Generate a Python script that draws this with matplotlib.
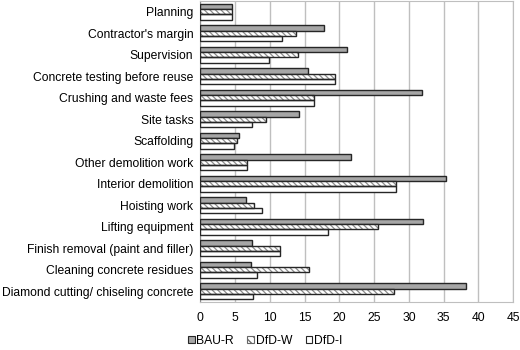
import numpy as np
import matplotlib.pyplot as plt
from matplotlib.patches import Patch

plt.rcParams['font.family'] = ['Liberation Sans', 'DejaVu Sans']
plt.rcParams['hatch.linewidth'] = 0.9

categories = ['Planning', "Contractor's margin", 'Supervision',
              'Concrete testing before reuse', 'Crushing and waste fees',
              'Site tasks', 'Scaffolding', 'Other demolition work',
              'Interior demolition', 'Hoisting work', 'Lifting equipment',
              'Finish removal (paint and filler)', 'Cleaning concrete residues',
              'Diamond cutting/ chiseling concrete']
bau_r = [4.5, 17.8, 21.1, 15.5, 31.9, 14.2, 5.55, 21.7, 35.3, 6.6, 32.0, 7.5, 7.3, 38.2]
dfd_w = [4.5, 13.7, 14.1, 19.4, 16.4, 9.5, 5.35, 6.75, 28.1, 7.75, 25.55, 11.45, 15.65, 27.85]
dfd_i = [4.5, 11.8, 9.9, 19.4, 16.4, 7.5, 4.8, 6.75, 28.1, 8.85, 18.4, 11.45, 8.1, 7.65]

y = np.arange(len(categories))
h = 0.25
edge = '#262626'

fig = plt.figure(figsize=(5.2, 3.5), dpi=100)
ax = fig.add_axes([0.385, 0.137, 0.602, 0.86])

ax.barh(y - h, bau_r, height=h, color='#a6a6a6', edgecolor=edge, linewidth=1, zorder=3)
# hatched bars: gray hatch underneath, dark outline on top
ax.barh(y, dfd_w, height=h, color='white', edgecolor='#8c8c8c', hatch='\\\\\\\\\\\\', linewidth=0, zorder=3)
ax.barh(y, dfd_w, height=h, fill=False, edgecolor=edge, linewidth=1, zorder=4)
ax.barh(y + h, dfd_i, height=h, color='white', edgecolor=edge, linewidth=1, zorder=3)

ax.set_xlim(0, 45)
ax.set_xticks(np.arange(0, 46, 5))
ax.set_ylim(len(categories) - 0.5, -0.5)
ax.set_yticks(y)
ax.set_yticklabels(categories)
ax.tick_params(axis='both', length=0, labelsize=8.7, colors='black')
ax.tick_params(axis='y', pad=5)
ax.tick_params(axis='x', pad=7)
ax.grid(axis='x', color='#bfbfbf', linewidth=1, zorder=0)
for s in ax.spines.values():
    s.set_color('#bfbfbf')
ax.spines['left'].set_color('#8c8c8c')

handles = [Patch(facecolor='#a6a6a6', edgecolor=edge, linewidth=0.8),
           Patch(facecolor='white', edgecolor='#666666', hatch='\\\\\\\\', linewidth=0.8),
           Patch(facecolor='white', edgecolor=edge, linewidth=0.8)]
fig.legend(handles, ['BAU-R', 'DfD-W', 'DfD-I'], loc='center',
           bbox_to_anchor=(0.51, 0.027), ncol=3, frameon=False, fontsize=8.7,
           handlelength=0.55, handleheight=0.55, handletextpad=0.15, columnspacing=1.1,
           borderpad=0)

fig.savefig('out.png', dpi=100)
